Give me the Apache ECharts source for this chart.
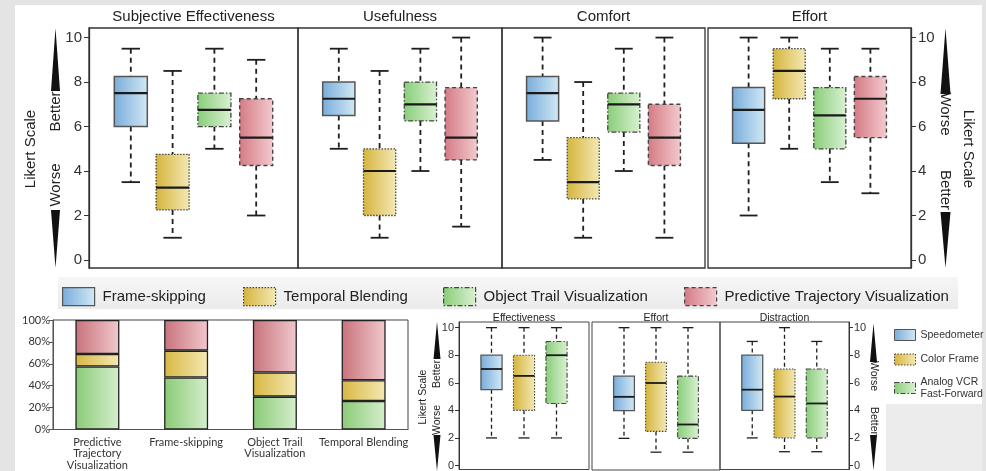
<!DOCTYPE html>
<html>
<head>
<meta charset="utf-8">
<script src="https://cdn.jsdelivr.net/npm/echarts@6/dist/echarts.min.js"></script>
<style>
html,body{margin:0;padding:0;background:#e4e4e4;}
#chart{width:986px;height:471px;}
</style>
</head>
<body>
<div id="chart"></div>
<script>
// ---------------- DATA ----------------
const topPanels = ['Subjective Effectiveness', 'Usefulness', 'Comfort', 'Effort'];
const treatments = ['Frame-skipping', 'Temporal Blending', 'Object Trail Visualization', 'Predictive Trajectory Visualization'];
// [min, q1, median, q3, max] for each top panel
const frameSkipping        = [[3.5, 6, 7.5, 8.25, 9.5], [5, 6.5, 7.25, 8, 9.5], [4.5, 6.25, 7.5, 8.25, 10], [2, 5.25, 6.75, 7.75, 10]];
const temporalBlending     = [[1, 2.25, 3.25, 4.75, 8.5], [1, 2, 4, 5, 8.5], [1, 2.75, 3.5, 5.5, 8], [5, 7.25, 8.5, 9.5, 10]];
const objectTrail          = [[5, 6, 6.75, 7.5, 9.5], [4, 6.25, 7, 8, 9.5], [4, 5.75, 7, 7.5, 9.5], [3.5, 5, 6.5, 7.75, 9.5]];
const predictiveTrajectory = [[2, 4.25, 5.5, 7.25, 9], [1.5, 4.5, 5.5, 7.75, 10], [1, 4.25, 5.5, 7, 10], [3, 5.5, 7.25, 8.25, 9.5]];

const bottomPanels = ['Effectiveness', 'Effort', 'Distraction'];
const bottomTreatments = ['Speedometer', 'Color Frame', 'Analog VCR Fast-Forward'];
const speedometer = [[2, 5.5, 7, 8, 10], [2, 4, 5, 6.5, 10], [2, 4, 5.5, 8, 9]];
const colorFrame  = [[2, 4, 6.5, 8, 10], [1, 2.5, 6, 7.5, 10], [1, 2, 5, 7, 10]];
const analogVCR   = [[2, 4.5, 8, 9, 10], [1, 2, 3, 6.5, 10], [1, 2, 4.5, 7, 9]];

const likertTicks = [0, 2, 4, 6, 8, 10];

const barCategories = ['Predictive\nTrajectory\nVisualization', 'Frame-skipping', 'Object Trail\nVisualization', 'Temporal Blending'];
const greenShare  = [57.5, 47.5, 30, 26];
const yellowShare = [11.5, 24.5, 22, 19];
const redShare    = [31, 28, 48, 55];

// ---------------- STYLES ----------------
const FONT = '"Liberation Sans", Arial, sans-serif';
function grad(c0, c1) {
  return {type: 'linear', x: 0, y: 0, x2: 1, y2: 0, colorStops: [{offset: 0, color: c0}, {offset: 1, color: c1}]};
}
const looks = {
  blue:   {fill: grad('#78acdb', '#d3e9f5'), border: '#555', dash: null, bw: 1.5},
  yellow: {fill: grad('#d5b43c', '#f4e9b6'), border: '#444', dash: [1.5, 1.5], bw: 1.3},
  green:  {fill: grad('#88cd78', '#daf1d3'), border: '#444', dash: [5, 2, 1.5, 2], bw: 1.3},
  red:    {fill: grad('#d47a84', '#f3cbcf'), border: '#444', dash: [4, 3], bw: 1.4}
};
const lookOrder = ['blue', 'yellow', 'green', 'red'];

function makeBoxRenderer(look, geom) {
  return function (params, api) {
    const x = api.value(0);
    const lo = api.coord([x, api.value(1)]);
    const q1 = api.coord([x, api.value(2)]);
    const md = api.coord([x, api.value(3)]);
    const q3 = api.coord([x, api.value(4)]);
    const hi = api.coord([x, api.value(5)]);
    const unit = api.size([1, 0])[0];
    const bw = unit * geom.box, cw = unit * geom.cap;
    const cx = lo[0];
    const wStyle = {stroke: '#1e1e1e', lineWidth: geom.lw, lineDash: geom.dash};
    const cStyle = {stroke: '#1e1e1e', lineWidth: geom.lw};
    return {
      type: 'group',
      children: [
        {type: 'line', shape: {x1: cx, y1: hi[1], x2: cx, y2: q3[1]}, style: wStyle},
        {type: 'line', shape: {x1: cx, y1: q1[1], x2: cx, y2: lo[1]}, style: wStyle},
        {type: 'line', shape: {x1: cx - cw / 2, y1: hi[1], x2: cx + cw / 2, y2: hi[1]}, style: cStyle},
        {type: 'line', shape: {x1: cx - cw / 2, y1: lo[1], x2: cx + cw / 2, y2: lo[1]}, style: cStyle},
        {type: 'rect', shape: {x: cx - bw / 2, y: q3[1], width: bw, height: q1[1] - q3[1]},
          style: {fill: look.fill, stroke: look.border, lineWidth: look.bw * geom.scale, lineDash: look.dash}},
        {type: 'line', shape: {x1: cx - bw / 2, y1: md[1], x2: cx + bw / 2, y2: md[1]},
          style: {stroke: '#1a1a1a', lineWidth: geom.medLw}}
      ]
    };
  };
}

// ---------------- LAYOUT ----------------
const grids = [
  {left: 89, top: 28, width: 209, height: 240},
  {left: 298, top: 28, width: 204, height: 240},
  {left: 502, top: 28, width: 203, height: 240},
  {left: 708, top: 28, width: 203, height: 240},
  {left: 459, top: 322, width: 130, height: 148},
  {left: 592, top: 322, width: 128, height: 148},
  {left: 720, top: 322, width: 129, height: 148},
  {left: 53, top: 320, width: 355, height: 112.7}
];
const gridOpts = grids.map((g, i) => Object.assign({show: true, backgroundColor: 'transparent',
  borderColor: i < 4 ? '#333' : '#444', borderWidth: i < 4 ? 1.3 : 1, containLabel: false}, g));

const xAxes = [], yAxes = [];
for (let i = 0; i < 4; i++) {
  xAxes.push({type: 'value', gridIndex: i, min: 0, max: 5, show: false});
  yAxes.push({
    type: 'value', gridIndex: i, min: -0.36, max: 10.43, show: i === 0 || i === 3,
    position: i === 3 ? 'right' : 'left',
    axisLine: {show: true, onZero: false, lineStyle: {color: '#333', width: 1.3}},
    axisTick: {show: true, length: 5, customValues: likertTicks, lineStyle: {color: '#333'}},
    axisLabel: {customValues: likertTicks, margin: 7, fontSize: 15, color: '#333', fontFamily: FONT},
    splitLine: {show: false}
  });
}
for (let i = 4; i < 7; i++) {
  xAxes.push({type: 'value', gridIndex: i, min: 0, max: 4, show: false});
  yAxes.push({
    type: 'value', gridIndex: i, min: -0.29, max: 10.41, show: i === 4 || i === 6,
    position: i === 6 ? 'right' : 'left',
    axisLine: {show: true, onZero: false, lineStyle: {color: '#333', width: 1}},
    axisTick: {show: true, length: 4, customValues: likertTicks, lineStyle: {color: '#333'}},
    axisLabel: {customValues: likertTicks, margin: 5, fontSize: 11, color: '#333', fontFamily: FONT},
    splitLine: {show: false}
  });
}
xAxes.push({
  type: 'category', gridIndex: 7, data: barCategories,
  axisLine: {show: true, lineStyle: {color: '#555'}}, axisTick: {show: false},
  axisLabel: {fontSize: 11, lineHeight: 11.5, color: '#333', fontFamily: 'Lato, sans-serif', margin: 7, interval: 0}
});
yAxes.push({
  type: 'value', gridIndex: 7, min: 0, max: 100, interval: 20,
  axisLine: {show: true, lineStyle: {color: '#555'}},
  axisTick: {show: true, length: 4, lineStyle: {color: '#555'}},
  axisLabel: {formatter: '{value}%', fontSize: 11, color: '#333', fontFamily: 'Lato, sans-serif', margin: 3},
  splitLine: {show: false}
});

// ---------------- SERIES ----------------
const series = [];
const topData = [frameSkipping, temporalBlending, objectTrail, predictiveTrajectory];
const topGeom = {box: 0.79, cap: 0.44, lw: 1.8, dash: [5, 4], medLw: 2.2, scale: 1};
for (let p = 0; p < 4; p++) {
  for (let t = 0; t < 4; t++) {
    series.push({
      type: 'custom', name: treatments[t], xAxisIndex: p, yAxisIndex: p,
      renderItem: makeBoxRenderer(looks[lookOrder[t]], topGeom),
      encode: {x: 0, y: [1, 2, 3, 4, 5]},
      itemStyle: {color: looks[lookOrder[t]].fill},
      data: [[t + 1].concat(topData[t][p])]
    });
  }
}
const botData = [speedometer, colorFrame, analogVCR];
const botGeom = {box: 0.65, cap: 0.34, lw: 1.3, dash: [4, 3], medLw: 1.8, scale: 0.85};
for (let p = 0; p < 3; p++) {
  for (let t = 0; t < 3; t++) {
    series.push({
      type: 'custom', name: bottomTreatments[t], xAxisIndex: 4 + p, yAxisIndex: 4 + p,
      renderItem: makeBoxRenderer(looks[lookOrder[t]], botGeom),
      encode: {x: 0, y: [1, 2, 3, 4, 5]},
      itemStyle: {color: looks[lookOrder[t]].fill},
      data: [[t + 1].concat(botData[t][p])]
    });
  }
}
const barLooks = [
  {name: 'Green', values: greenShare, fill: grad('#8acb76', '#d6eecd')},
  {name: 'Yellow', values: yellowShare, fill: grad('#d7b743', '#f5e9b3')},
  {name: 'Red', values: redShare, fill: grad('#c8727b', '#f1c9cd')}
];
barLooks.forEach(b => series.push({
  type: 'bar', name: b.name, stack: 'share', xAxisIndex: 7, yAxisIndex: 7, barWidth: 44,
  itemStyle: {color: b.fill, borderColor: '#222', borderWidth: 1.3},
  data: b.values
}));

// ---------------- LEGENDS ----------------
const legendLefts = [62, 243, 443, 684];
const legends = treatments.map((name, i) => {
  const lk = looks[lookOrder[i]];
  return {
    left: legendLefts[i], top: 287, padding: 0, itemWidth: 32, itemHeight: 18, selectedMode: false,
    data: [{name: name, icon: 'rect', itemStyle: {color: lk.fill, borderColor: lk.border, borderWidth: 1.2, borderType: lk.dash || 'solid'}}],
    textStyle: {fontSize: 15, color: '#222', fontFamily: FONT, padding: [0, 0, 0, 3]}
  };
});
const botLegendTops = [329, 353.5, 376];
bottomTreatments.forEach((name, i) => {
  const lk = looks[lookOrder[i]];
  legends.push({
    left: 894, top: botLegendTops[i], padding: 0, itemWidth: 21, itemHeight: 11, selectedMode: false,
    data: [{name: name, icon: 'rect', itemStyle: {color: lk.fill, borderColor: lk.border, borderWidth: 1, borderType: lk.dash || 'solid'}}],
    formatter: n => n === 'Analog VCR Fast-Forward' ? 'Analog VCR\nFast-Forward' : n,
    textStyle: {fontSize: 10.5, lineHeight: 12, color: '#333', fontFamily: FONT}
  });
});

// ---------------- TITLES ----------------
const titles = topPanels.map((t, i) => ({
  text: t, left: grids[i].left + grids[i].width / 2, top: 9, textAlign: 'center', padding: 0,
  textStyle: {fontSize: 15, fontWeight: 'normal', color: '#222', fontFamily: FONT}
})).concat(bottomPanels.map((t, i) => ({
  text: t, left: grids[4 + i].left + grids[4 + i].width / 2, top: 312.5, textAlign: 'center', padding: 0,
  textStyle: {fontSize: 10.5, fontWeight: 'normal', color: '#222', fontFamily: FONT}
})));

// ---------------- GRAPHICS ----------------
function rtext(x, y, text, size, rot) {
  return {type: 'text', x: x, y: y, rotation: rot, z: 10,
    style: {text: text, font: size + 'px ' + FONT, fill: '#222', align: 'center', verticalAlign: 'middle'}};
}
function arrow(cx, hw, y0, y1, up) {
  const pts = up ? [[cx, y0], [cx + hw, y1], [cx - hw, y1]] : [[cx - hw, y0], [cx + hw, y0], [cx, y1]];
  return {type: 'polygon', z: 10, shape: {points: pts}, style: {fill: '#111'}};
}
const UP = Math.PI / 2, DOWN = -Math.PI / 2;
const graphics = [
  {type: 'rect', z: -10, silent: true, shape: {x: 15, y: 5, width: 967, height: 466}, style: {fill: '#fff'}},
  {type: 'rect', z: -9, silent: true, shape: {x: 886, y: 404, width: 96, height: 67}, style: {fill: '#ececec'}},
  {type: 'rect', z: -9, silent: true, shape: {x: 58, y: 277, width: 900, height: 32},
    style: {fill: {type: 'linear', x: 0, y: 0, x2: 0, y2: 1, colorStops: [{offset: 0, color: '#f6f6f6'}, {offset: 1, color: '#ebebeb'}]}}},
  // top-left side
  rtext(31, 149, 'Likert Scale', 15, UP),
  rtext(56, 111.5, 'Better', 15, UP),
  rtext(56, 185, 'Worse', 15, UP),
  arrow(55.5, 4.5, 28, 91, true),
  arrow(55.5, 4.5, 210, 268, false),
  // top-right side
  rtext(968, 149, 'Likert Scale', 15, DOWN),
  rtext(945.5, 114, 'Worse', 15, DOWN),
  rtext(945.5, 190, 'Better', 15, DOWN),
  arrow(945.5, 5, 28, 94, true),
  arrow(945.5, 5, 212, 268, false),
  // bottom boxplot left side
  rtext(423, 397, 'Likert Scale', 10.5, UP),
  rtext(437.5, 374, 'Better', 10.5, UP),
  rtext(437.5, 420, 'Worse', 10.5, UP),
  arrow(437, 3.5, 322, 359, true),
  arrow(437, 3.5, 435, 471, false),
  // bottom boxplot right side
  rtext(873.5, 376, 'Worse', 10.5, DOWN),
  rtext(873.5, 421, 'Better', 10.5, DOWN),
  arrow(873.5, 3.5, 323.5, 362, true),
  arrow(873.5, 3.5, 435, 470, false)
];

const chart = echarts.init(document.getElementById('chart'), null, {renderer: 'canvas'});
chart.setOption({
  backgroundColor: '#e4e4e4',
  animation: false,
  title: titles,
  legend: legends,
  grid: gridOpts,
  xAxis: xAxes,
  yAxis: yAxes,
  series: series,
  graphic: graphics
});
</script>
</body>
</html>
